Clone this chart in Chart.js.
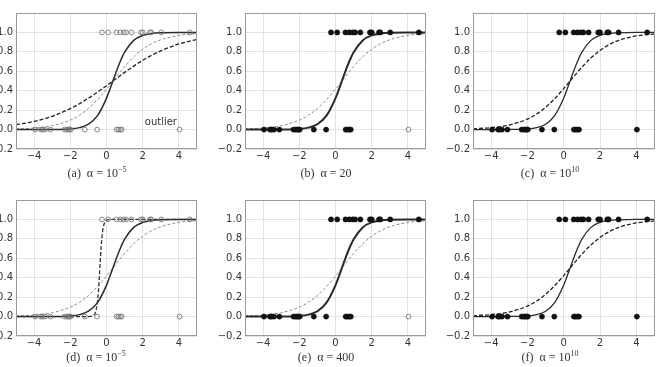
<!DOCTYPE html>
<html>
<head>
<meta charset="utf-8">
<script src="https://cdn.jsdelivr.net/npm/chart.js@4.4.0/dist/chart.umd.min.js"></script>
<style>
  body { margin: 0; width: 659px; height: 367px; background: #fff; position: relative; overflow: hidden; }
  canvas { position: absolute; }
  .cap { position: absolute; font-family: 'Liberation Serif', serif; font-size: 12px; color: #333; white-space: nowrap; transform: translate(-50%, -50%); }
  .cap sup { font-size: 8px; }
</style>
</head>
<body>

<canvas id="pa" width="220" height="163"></canvas>
<canvas id="pb" width="220" height="163"></canvas>
<canvas id="pc" width="220" height="163"></canvas>
<canvas id="pd" width="220" height="163"></canvas>
<canvas id="pe" width="220" height="163"></canvas>
<canvas id="pf" width="220" height="163"></canvas>

<div class="cap" style="left:97px;top:173px">(a)&nbsp; α = 10<sup>−5</sup></div>
<div class="cap" style="left:326px;top:173px">(b)&nbsp; α = 20</div>
<div class="cap" style="left:550px;top:173px">(c)&nbsp; α = 10<sup>10</sup></div>
<div class="cap" style="left:96px;top:357px">(d)&nbsp; α = 10<sup>−5</sup></div>
<div class="cap" style="left:326px;top:357px">(e)&nbsp; α = 400</div>
<div class="cap" style="left:550px;top:357px">(f)&nbsp; α = 10<sup>10</sup></div>

<script>
// data points (label 1 / label 0 / the one outlier)
const xOne = [-0.25, 0.09, 0.55, 0.76, 0.95, 1.08, 1.37, 1.9, 2.0, 2.4, 2.47, 3.02, 4.6];
const xZero = [-3.95, -3.62, -3.54, -3.4, -3.1, -2.32, -2.2, -2.12, -2.04, -1.98, -1.2, -0.52, 0.56, 0.65, 0.75, 0.84];
const xOutlier = [4.03];

// fitted curves
const curveX = [-5, -4, -3, -2, -1.5, -1, -0.5, 0, 0.25, 0.5, 0.75, 1, 1.5, 2, 2.5, 3, 4, 5];
const solidFit = [0, 0.0001, 0.0009, 0.007, 0.02, 0.055, 0.143, 0.324, 0.448, 0.578, 0.698, 0.797, 0.918, 0.97, 0.989, 0.996, 1.0, 1.0];
const grayFit = [0.006, 0.016, 0.04, 0.097, 0.147, 0.217, 0.309, 0.418, 0.476, 0.536, 0.594, 0.65, 0.749, 0.828, 0.885, 0.925, 0.97, 0.988];
const wideFit = [0.05, 0.084, 0.137, 0.216, 0.266, 0.323, 0.385, 0.452, 0.486, 0.52, 0.555, 0.589, 0.653, 0.713, 0.765, 0.811, 0.881, 0.928];
const bigAlphaFit = [0.008, 0.02, 0.047, 0.108, 0.159, 0.229, 0.318, 0.422, 0.478, 0.534, 0.589, 0.642, 0.738, 0.815, 0.874, 0.916, 0.964, 0.985];

const stepX = [-5, -2, -1, -0.8, -0.7, -0.6, -0.5, -0.45, -0.4, -0.35, -0.3, -0.25, -0.2, -0.1, 0, 0.1, 0.3, 1, 5];
const stepFit = [0, 0, 0.0003, 0.0037, 0.0135, 0.048, 0.156, 0.261, 0.404, 0.565, 0.713, 0.826, 0.901, 0.971, 0.992, 0.998, 1.0, 1.0, 1.0];

const xTicks = [-4, -2, 0, 2, 4];
const yTicks = [-0.2, 0, 0.2, 0.4, 0.6, 0.8, 1.0];

const PLOT_W = 182, PLOT_H = 141, Y_AXIS_W = 34, X_AXIS_H = 18, PAD = 4;

function pts(xs, y) { return xs.map(x => ({ x: x, y: y })) }
function curve(xs, ys) { return xs.map((x, i) => ({ x: x, y: ys[i] })) }

const openStyle = { pointRadius: 2.4, pointBackgroundColor: 'rgba(0,0,0,0)', pointBorderColor: '#7a7a7a', pointBorderWidth: 0.9, showLine: false };
const filledStyle = { pointRadius: 2.6, pointBackgroundColor: '#111', pointBorderColor: '#111', pointBorderWidth: 0.5, showLine: false };

function line(xs, ys, color, width, dash) {
  return {
    data: curve(xs, ys), showLine: true, pointRadius: 0, borderColor: color,
    borderWidth: width, borderDash: dash || [], cubicInterpolationMode: 'monotone', fill: false
  }
}

const solid = (w) => line(curveX, solidFit, '#2a2a2a', w);
const grayDash = () => line(curveX, grayFit, '#8c8c8c', 1, [3, 2]);

// frame + optional note
const framePlugin = {
  id: 'frame',
  afterDraw(chart, args, opts) {
    const a = chart.chartArea, ctx = chart.ctx;
    ctx.save();
    ctx.strokeStyle = '#9a9a9a';
    ctx.lineWidth = 1;
    ctx.strokeRect(Math.round(a.left) + 0.5, Math.round(a.top) + 0.5, Math.round(a.right - a.left) - 1, Math.round(a.bottom - a.top) - 1);
    if (opts.note) {
      ctx.fillStyle = '#333';
      ctx.font = '10px "DejaVu Sans"';
      ctx.textAlign = 'center';
      ctx.textBaseline = 'middle';
      ctx.fillText(opts.note.text, chart.scales.x.getPixelForValue(opts.note.x), chart.scales.y.getPixelForValue(opts.note.y));
    }
    ctx.restore();
  }
};

function makePanel(id, plotLeft, plotTop, datasets, note) {
  const el = document.getElementById(id);
  el.style.left = (plotLeft - Y_AXIS_W) + 'px';
  el.style.top = (plotTop - PAD) + 'px';
  el.width = Y_AXIS_W + PLOT_W + PAD;
  el.height = PAD + PLOT_H + X_AXIS_H;

  const tickFont = { family: 'DejaVu Sans', size: 10 };
  new Chart(el, {
    type: 'scatter',
    data: { datasets: datasets },
    options: {
      responsive: false,
      animation: false,
      devicePixelRatio: 1,
      layout: { padding: { top: PAD, right: PAD, left: 0, bottom: 0 } },
      plugins: { legend: { display: false }, tooltip: { enabled: false }, frame: { note: note } },
      scales: {
        x: {
          type: 'linear', min: -5, max: 5,
          afterBuildTicks: (s) => { s.ticks = xTicks.map(v => ({ value: v })) },
          afterFit: (s) => { s.height = X_AXIS_H },
          grid: { color: '#e2e2e2', drawTicks: false },
          border: { display: false },
          ticks: { color: '#333', font: tickFont, padding: 1, maxRotation: 0,
            callback: (v) => String(v).replace('-', '\u2212') }
        },
        y: {
          type: 'linear', min: -0.2, max: 1.2,
          afterBuildTicks: (s) => { s.ticks = yTicks.map(v => ({ value: v })) },
          afterFit: (s) => { s.width = Y_AXIS_W },
          grid: { color: '#e2e2e2', drawTicks: false },
          border: { display: false },
          ticks: { color: '#333', font: tickFont, padding: 3,
            callback: (v) => v.toFixed(1).replace('-', '\u2212') }
        }
      }
    },
    plugins: [framePlugin]
  });
}

// (a) small alpha, all points open
makePanel('pa', 16, 8, [
  Object.assign({ data: pts(xOne, 1) }, openStyle),
  Object.assign({ data: pts(xZero, 0) }, openStyle),
  Object.assign({ data: pts(xOutlier, 0) }, openStyle),
  solid(1.5),
  line(curveX, wideFit, '#222', 1.3, [4, 2]),
  grayDash()
], { text: 'outlier', x: 3.0, y: 0.07 });

// (b) alpha = 20
makePanel('pb', 245, 8, [
  Object.assign({ data: pts(xOne, 1) }, filledStyle),
  Object.assign({ data: pts(xZero, 0) }, filledStyle),
  Object.assign({ data: pts(xOutlier, 0) }, openStyle),
  solid(2),
  grayDash()
]);

// (c) alpha = 1e10
makePanel('pc', 473, 8, [
  Object.assign({ data: pts(xOne, 1) }, filledStyle),
  Object.assign({ data: pts(xZero, 0) }, filledStyle),
  Object.assign({ data: pts(xOutlier, 0) }, filledStyle),
  solid(1.3),
  line(curveX, bigAlphaFit, '#222', 1.3, [4, 2])
]);

// (d)
makePanel('pd', 16, 195, [
  Object.assign({ data: pts(xOne, 1) }, openStyle),
  Object.assign({ data: pts(xZero, 0) }, openStyle),
  Object.assign({ data: pts(xOutlier, 0) }, openStyle),
  line(stepX, stepFit, '#333', 1.3, [4, 2]),
  solid(1.5),
  grayDash()
]);

// (e) alpha = 400
makePanel('pe', 245, 195, [
  Object.assign({ data: pts(xOne, 1) }, filledStyle),
  Object.assign({ data: pts(xZero, 0) }, filledStyle),
  Object.assign({ data: pts(xOutlier, 0) }, openStyle),
  solid(2),
  grayDash()
]);

// (f)
makePanel('pf', 473, 195, [
  Object.assign({ data: pts(xOne, 1) }, filledStyle),
  Object.assign({ data: pts(xZero, 0) }, filledStyle),
  Object.assign({ data: pts(xOutlier, 0) }, filledStyle),
  solid(1.3),
  line(curveX, bigAlphaFit, '#222', 1.3, [4, 2])
]);
</script>
</body>
</html>
